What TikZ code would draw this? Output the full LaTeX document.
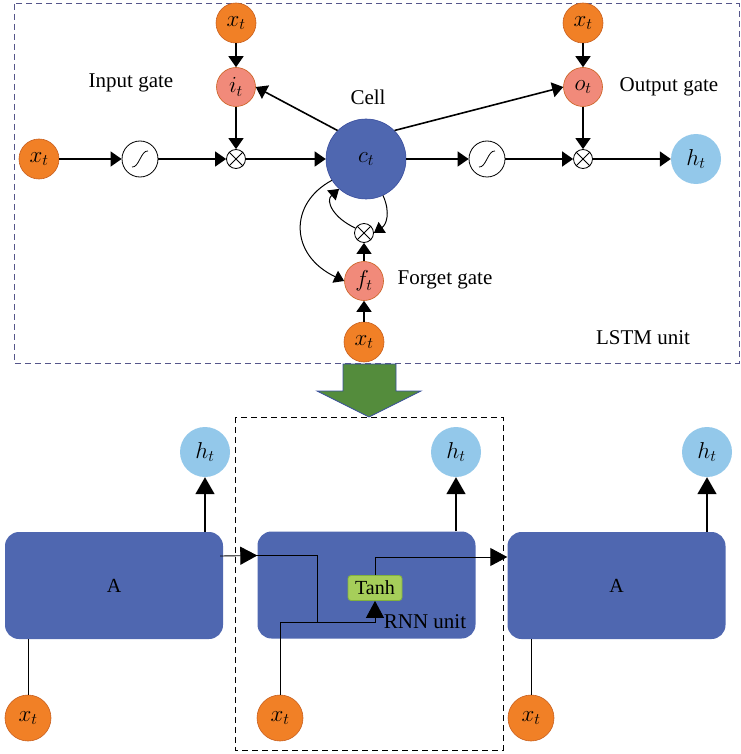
\RequirePackage{fix-cm}
\documentclass[tikz,border=0pt]{standalone}
\usepackage{fontspec}
\setmainfont{Liberation Serif}
\usetikzlibrary{arrows.meta}

\definecolor{xorange}{RGB}{241,128,38}
\definecolor{xedge}{RGB}{200,95,30}
\definecolor{gatered}{RGB}{241,138,122}
\definecolor{cellblue}{RGB}{79,103,176}
\definecolor{celledge}{RGB}{58,78,158}
\definecolor{htblue}{RGB}{147,200,234}
\definecolor{tanhgreen}{RGB}{166,206,90}
\definecolor{tanhedge}{RGB}{130,178,60}
\definecolor{downgreen}{RGB}{84,140,60}
\definecolor{dashpurple}{RGB}{85,85,138}

\tikzset{
    mathfont/.style={font=\fontsize{23}{27}\selectfont},
    xnode/.style={circle,fill=xorange,draw=xedge,line width=0.6pt,minimum size=40pt,inner sep=0pt,mathfont},
    gatenode/.style={circle,fill=gatered,draw=xedge,line width=0.6pt,minimum size=39pt,inner sep=0pt,mathfont},
    cellnode/.style={circle,fill=cellblue,draw=celledge,line width=0.6pt,minimum size=80pt,inner sep=0pt,mathfont},
    htnode/.style={circle,fill=htblue,minimum size=50pt,inner sep=0pt,mathfont},
    signode/.style={circle,draw,fill=white,line width=0.8pt,minimum size=36pt,inner sep=0pt},
    multnode/.style={circle,draw,fill=white,line width=0.8pt,minimum size=19pt,inner sep=0pt},
    unitbox/.style={rectangle,rounded corners=14pt,fill=cellblue,minimum width=218pt,minimum height=107pt,font=\fontsize{20}{24}\selectfont},
    tanhbox/.style={rectangle,rounded corners=3pt,fill=tanhgreen,draw=tanhedge,line width=0.8pt,minimum width=54pt,minimum height=25pt,inner sep=0pt,font=\fontsize{20}{24}\selectfont},
    lbl/.style={font=\fontsize{21}{25}\selectfont,inner sep=0pt},
    arr/.style={-{Triangle[length=11pt,width=15pt]},line width=1.6pt},
    curvearr/.style={-{Triangle[length=10pt,width=13pt]},line width=1pt},
    barr/.style={-{Triangle[length=17pt,width=19pt]},line width=1.6pt},
    rarr/.style={-{Triangle[length=17pt,width=18pt]},line width=0.9pt},
    thinline/.style={line width=0.9pt},
    topdash/.style={draw=dashpurple,line width=1pt,dash pattern=on 6pt off 4pt},
    botdash/.style={draw=black,line width=1pt,dash pattern=on 6pt off 4pt}
}

\begin{document}
\begin{tikzpicture}[x=1pt,y=-1pt]
    \useasboundingbox (0,0) rectangle (740,754);
    \begin{scope}
        \draw[topdash] (14,4) rectangle (739,363);

        \node[xnode] (x1) at (39,159) {$x_t$};
        \node[signode] (sg1) at (140,159) {};
        \node[multnode] (m1) at (236,159) {};
        \node[gatenode] (it) at (236,87) {$i_t$};
        \node[xnode] (xi) at (236,23) {$x_t$};
        \node[cellnode] (cell) at (366,159) {$c_t$};
        \node[multnode] (m2) at (364,233) {};
        \node[gatenode] (ft) at (364,281) {$f_t$};
        \node[xnode] (xf) at (364,342) {$x_t$};
        \node[signode] (sg2) at (487,159) {};
        \node[multnode] (m3) at (583,159) {};
        \node[gatenode] (ot) at (583,87) {$o_t$};
        \node[xnode] (xo) at (583,23) {$x_t$};
        \node[htnode] (ht) at (696,159) {$h_t$};

        \foreach \n in {sg1,sg2}
            \draw[line width=0.8pt] ([shift={(-8,8)}]\n.center) .. controls ([shift={(-1,9)}]\n.center) and ([shift={(1,-9)}]\n.center) .. ([shift={(8,-8)}]\n.center);
        \foreach \n in {m1,m2,m3}
            \draw[line width=0.8pt] (\n.north west) -- (\n.south east) (\n.north east) -- (\n.south west);

        \node[lbl] (lin) at (131,83) {Input gate};
        \node[lbl] (lcell) at (368,97) {Cell};
        \node[lbl] (lout) at (669,87) {Output gate};
        \node[lbl] (lforget) at (445,280) {Forget gate};
        \node[lbl] (llstm) at (643,338) {LSTM unit};

        \draw[arr] (x1) -- (sg1);
        \draw[arr] (sg1) -- (m1);
        \draw[arr] (xi) -- (it);
        \draw[arr] (it) -- (m1);
        \draw[arr] (m1) -- (cell);
        \draw[arr] (cell.135) -- (it.east);
        \draw[arr] (cell.45) -- (ot.west);
        \draw[arr] (xo) -- (ot);
        \draw[arr] (ot) -- (m3);
        \draw[arr] (cell) -- (sg2);
        \draw[arr] (sg2) -- (m3);
        \draw[arr] (m3) -- (ht);
        \draw[arr] (xf) -- (ft);
        \draw[arr] (ft) -- (m2);

        \draw[curvearr] (cell.-65) .. controls +(8,18) and +(12,-8) .. (m2.east);
        \draw[curvearr] (m2.150) .. controls +(-22,-10) and +(-14,12) .. (cell.-132);
        \draw[curvearr] (cell.-148) .. controls +(-43,23) and +(-55,-26) .. (ft.west);
    \end{scope}
    \draw[draw=celledge,fill=downgreen,line width=0.8pt] (343,364) -- (396,364) -- (396,391) -- (421,391) -- (369,417) -- (317,391) -- (343,391) -- cycle;
    \begin{scope}
        \draw[botdash] (235,417) rectangle (503,750);

        \node[unitbox] (a1) at (114,585.5) {A};
        \node[unitbox] (mid) at (366.5,585) {};
        \node[unitbox] (a2) at (616.5,585.5) {A};
        \node[htnode] (h1) at (205,452) {$h_t$};
        \node[htnode] (h2) at (456,452) {$h_t$};
        \node[htnode] (h3) at (707,452) {$h_t$};
        \node[xnode,minimum size=46pt] (xb1) at (28,718) {$x_t$};
        \node[xnode,minimum size=46pt] (xb2) at (280,718) {$x_t$};
        \node[xnode,minimum size=46pt] (xb3) at (531,718) {$x_t$};
        \node[tanhbox] (tanh) at (375,588) {Tanh};
        \node[lbl] (lrnn) at (425,622) {RNN unit};
        \coordinate (turn) at (317,622);

        \draw[barr] (h1 |- a1.north) -- (h1);
        \draw[barr] (h2 |- mid.north) -- (h2);
        \draw[barr] (h3 |- a2.north) -- (h3);
        \draw[thinline] (xb1) -- (xb1 |- a1.south);
        \draw[thinline] (xb3) -- (xb3 |- a2.south);
        \draw[rarr] ([xshift=-3pt,yshift=29.5pt]a1.east) -- ([yshift=29.5pt]mid.west);
        \draw[thinline] ([yshift=29.5pt]mid.west) -| (turn);
        \draw[rarr] (xb2) |- (tanh |- turn) -- (tanh);
        \draw[rarr] (tanh) |- ([yshift=28.5pt]a2.west);
    \end{scope}
\end{tikzpicture}
\end{document}
